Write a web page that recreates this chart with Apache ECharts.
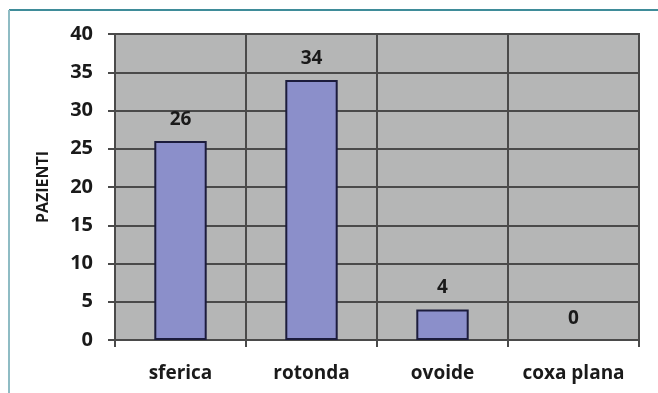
<!DOCTYPE html>
<html>
<head>
<meta charset="utf-8">
<style>
  html, body { margin: 0; padding: 0; background: #ffffff; }
  #chart { width: 658px; height: 393px; }
</style>
<script src="https://cdn.jsdelivr.net/npm/echarts@6/dist/echarts.min.js"></script>
</head>
<body>
<div id="chart"></div>
<script>
// Head shape categories and patient counts
const categories = ['sferica', 'rotonda', 'ovoide', 'coxa plana'];
const pazienti = [26, 34, 4, 0];
const yTicks = [0, 5, 10, 15, 20, 25, 30, 35, 40];

const chart = echarts.init(document.getElementById('chart'), null, { renderer: 'canvas' });
const font = '"Open Sans", "Liberation Sans", sans-serif';
const gridColor = '#4a4a4a';

// empty bars get no outline
const barData = pazienti.map(v => (v === 0 ? { value: v, itemStyle: { borderWidth: 0 } } : v));

chart.setOption({
  animation: false,
  backgroundColor: '#ffffff',
  graphic: [
    // frame lines along the top and left edges
    { type: 'line', shape: { x1: 9, y1: 10, x2: 658, y2: 10 }, style: { stroke: '#3f8c99', lineWidth: 2 } },
    { type: 'line', shape: { x1: 9, y1: 10, x2: 9, y2: 393 }, style: { stroke: '#8fbcc4', lineWidth: 2 } }
  ],
  grid: {
    left: 115, right: 19, top: 34, bottom: 53,
    show: true,
    backgroundColor: '#b5b6b6',
    borderColor: gridColor,
    borderWidth: 2
  },
  xAxis: {
    type: 'category',
    data: categories,
    axisLine: { lineStyle: { color: gridColor, width: 2 } },
    axisTick: { show: true, interval: 0, alignWithLabel: false, length: 7, lineStyle: { color: gridColor, width: 2 } },
    splitLine: { show: true, interval: 0, lineStyle: { color: gridColor, width: 2 } },
    axisLabel: { interval: 0, hideOverlap: false, color: '#1a1a1a', fontFamily: font, fontWeight: 'bold', fontSize: 19, margin: 24 }
  },
  yAxis: {
    type: 'value',
    min: yTicks[0],
    max: yTicks[yTicks.length - 1],
    interval: 5,
    name: 'PAZIENTI',
    nameLocation: 'middle',
    nameGap: 64,
    nameRotate: 90,
    nameTextStyle: { color: '#1a1a1a', fontFamily: font, fontWeight: 'bold', fontSize: 16 },
    axisLine: { show: true, lineStyle: { color: gridColor, width: 2 } },
    axisTick: { show: true, length: 7, lineStyle: { color: gridColor, width: 2 } },
    splitLine: { show: true, lineStyle: { color: gridColor, width: 2 } },
    axisLabel: { color: '#1a1a1a', fontFamily: font, fontWeight: 'bold', fontSize: 20, margin: 22 }
  },
  series: [{
    type: 'bar',
    data: barData,
    barWidth: '40%',
    itemStyle: { color: '#8b8fca', borderColor: '#1c1c3c', borderWidth: 2 },
    label: {
      show: true,
      position: 'top',
      distance: 12,
      color: '#1a1a1a',
      fontFamily: font,
      fontWeight: 'bold',
      fontSize: 19
    }
  }]
});
</script>
</body>
</html>
